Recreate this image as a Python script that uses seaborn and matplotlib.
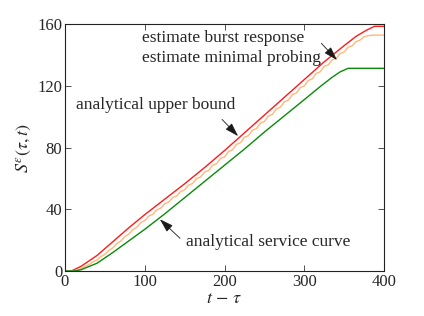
import numpy as np
import pandas as pd
import seaborn as sns
import matplotlib
matplotlib.use("Agg")
import matplotlib.pyplot as plt

# analytical upper bound (red)
t_upper = [0, 8, 20, 40, 60, 80, 100, 125, 150, 175, 200, 225, 250, 275, 300,
           325, 350, 365, 378, 388, 400]
s_upper = [0, 0, 3, 10, 19, 28, 36.5, 46.5, 56.5, 67, 78, 89.5, 101, 112.5, 124,
           135.5, 146, 152, 156, 158.5, 158.5]

# estimate minimal probing (orange), sampled every 5
t_probe = list(range(0, 401, 5))
s_probe = [0, 0, 0, 0.5, 1.5, 3.0, 4.0, 5.9, 7.0, 9.3, 10.8, 13.3, 15.0, 17.8,
           19.4, 22.3, 23.9, 26.8, 28.3, 31.3, 32.7, 35.6, 36.7, 39.6, 40.7, 43.6,
           44.7, 47.6, 48.6, 51.6, 52.6, 55.7, 56.7, 59.9, 60.9, 64.1, 65.1, 68.5,
           69.5, 72.9, 73.9, 77.4, 78.5, 82.0, 83.1, 86.6, 87.7, 91.2, 92.3, 95.8,
           96.9, 100.4, 101.5, 105.0, 106.1, 109.6, 110.7, 114.2, 115.3, 118.8,
           119.9, 123.4, 124.5, 128.0, 129.1, 132.6, 133.5, 136.8, 137.7, 140.9,
           141.9, 144.9, 145.9, 148.6, 149.6, 151.8, 152.4, 152.8, 152.8, 152.8,
           152.8]

# analytical service curve (green)
t_service = [0, 12, 20, 40, 60, 80, 100, 125, 150, 175, 200, 225, 250, 275, 300,
             320, 335, 345, 355, 400]
s_service = [0, 0, 0.8, 5, 12, 19.5, 27, 37, 47.5, 58, 68.5, 79, 90, 100.5, 111,
             119.5, 125.5, 129, 131.3, 131.3]

sns.set_theme(style="ticks")
plt.rcParams["font.family"] = ["Liberation Serif", "DejaVu Serif"]
plt.rcParams["mathtext.fontset"] = "stix"
plt.rcParams["xtick.direction"] = "in"
plt.rcParams["ytick.direction"] = "in"

fig = plt.figure(figsize=(4.24, 3.16), dpi=100)
ax = fig.add_axes([0.1533, 0.1424, 0.7524, 0.7816])

sns.lineplot(x=t_upper, y=s_upper, color="#ff1a1a", lw=1.0, ax=ax)
sns.lineplot(x=t_probe, y=s_probe, color="#ffb878", lw=1.0, ax=ax)
sns.lineplot(x=t_service, y=s_service, color="#0a8a0a", lw=1.0, ax=ax)

ax.set_xlim(0, 400)
ax.set_ylim(0, 160)
ax.set_xticks([0, 100, 200, 300, 400])
ax.set_yticks([0, 40, 80, 120, 160])
ax.tick_params(labelsize=12, length=4, width=0.6, top=True, right=True,
               color="#333333", pad=2)
for sp in ax.spines.values():
    sp.set_linewidth(0.8)
    sp.set_color("#222222")

ax.set_xlabel(r"$t\,-\,\tau$", fontsize=13, labelpad=0)
ax.set_ylabel(r"$S^{\varepsilon}(\tau,t)$", fontsize=13, labelpad=3)

arrow = dict(arrowstyle="-|>,head_length=0.7,head_width=0.22", color="k",
             lw=0.6, shrinkA=0, shrinkB=0)
ax.text(96.6, 150.7, "estimate burst response", fontsize=12.5, va="center")
ax.text(96.6, 137.8, "estimate minimal probing", fontsize=12.5, va="center")
ax.annotate("", xy=(341, 136.7), xytext=(321.4, 147.5), arrowprops=arrow)
ax.text(13.8, 107.3, "analytical upper bound", fontsize=12.5, va="center")
ax.annotate("", xy=(217, 87.4), xytext=(196.9, 98.2), arrowprops=arrow)
ax.text(151.3, 19, "analytical service curve", fontsize=12.5, va="center")
ax.annotate("", xy=(119, 33.5), xytext=(144.2, 21.2), arrowprops=arrow)

fig.savefig("out.png", dpi=100)
